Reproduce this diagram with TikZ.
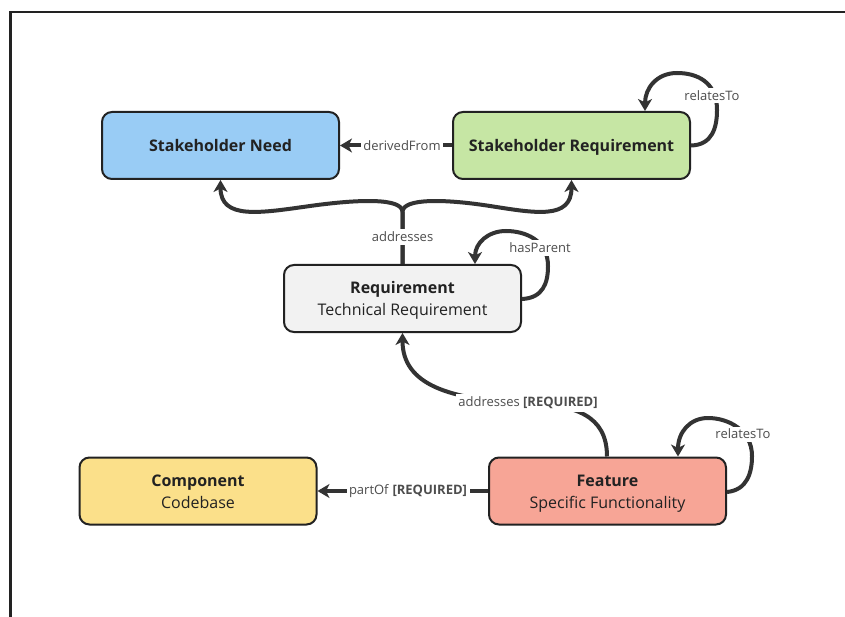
\documentclass[tikz,border=0pt]{standalone}
\usepackage{fontspec}
\setmainfont{Open Sans}
\usetikzlibrary{arrows.meta,calc}

\definecolor{ink}{HTML}{222222}
\definecolor{wire}{HTML}{333333}
\definecolor{lbl}{HTML}{4D4D4D}
\definecolor{needblue}{HTML}{99CCF5}
\definecolor{reqgreen}{HTML}{C6E6A4}
\definecolor{techgray}{HTML}{F2F2F2}
\definecolor{compyellow}{HTML}{FBE08A}
\definecolor{featred}{HTML}{F7A596}

% uniform line box so every title sits at the same height
\newcommand\lnstrut{\rule[-4.5pt]{0pt}{21pt}}

\tikzset{
  box/.style={draw=ink, line width=2pt, rounded corners=10pt,
    minimum width=237pt, minimum height=67pt, align=center,
    font=\fontsize{16}{22}\selectfont, text=ink, inner sep=0pt},
  conn/.style={draw=wire, line width=4pt,
    -{Stealth[length=12pt,width=14pt,inset=3.5pt]}},
  tag/.style={fill=white, text=lbl, font=\fontsize{13}{15}\selectfont,
    inner sep=2.5pt},
}

\begin{document}
\begin{tikzpicture}[x=1pt, y=-1pt]
  \useasboundingbox (0,0) rectangle (845,617);
  \fill[white] (0,0) rectangle (845,617);

  % frame
  \draw[ink, line width=2.5pt] (845,12) -- (10.5,12) -- (10.5,617);

  % entities
  \node[box, fill=needblue]  (sn)   at (220.5,145.5) {\lnstrut\textbf{Stakeholder Need}};
  \node[box, fill=reqgreen]  (sr)   at (571.5,145.5) {\lnstrut\textbf{Stakeholder Requirement}};
  \node[box, fill=techgray]  (req)  at (402.5,298.5) {\lnstrut\textbf{Requirement}\\\lnstrut Technical Requirement};
  \node[box, fill=compyellow](comp) at (198,491)     {\lnstrut\textbf{Component}\\\lnstrut Codebase};
  \node[box, fill=featred]   (feat) at (607.5,491)   {\lnstrut\textbf{Feature}\\\lnstrut Specific Functionality};

  % derivedFrom
  \draw[conn] (sr.west) -- (sn.east);
  \node[tag] (tderived) at (402,145.5) {derivedFrom};

  % addresses (brace-shaped pair)
  \draw[conn] (req.north) -- (402.5,212)
    .. controls (402.5,198) and (360,199) .. (310,206)
    .. controls (260,213) and (220.5,220) .. (sn.south);
  \draw[conn] (req.north) -- (402.5,212)
    .. controls (402.5,198) and (445,199) .. (490,206)
    .. controls (535,213) and (571.5,220) .. (sr.south);
  \node[tag] (taddr) at (402.5,237) {addresses};

  % relatesTo on Stakeholder Requirement
  \draw[conn] (sr.east)
    .. controls (712,145) and (717,128) .. (717,110)
    .. controls (717,82) and (697,73) .. (677,73)
    .. controls (657,73) and (645,88) .. ([xshift=73.5pt]sr.north);
  \node[tag] (tsrrel) at (712,96) {relatesTo};

  % hasParent on Requirement
  \draw[conn] ([yshift=-0.5pt]req.east)
    .. controls (543,298) and (548,283) .. (548,266)
    .. controls (548,240) and (525,231) .. (506,231)
    .. controls (488,231) and (475,243) .. ([xshift=72.5pt]req.north);
  \node[tag] (thas) at (540,248) {hasParent};

  % relatesTo on Feature
  \draw[conn] ([yshift=-1pt]feat.east)
    .. controls (747,490) and (752,473) .. (752,456)
    .. controls (752,430) and (728,418) .. (708,418)
    .. controls (690,418) and (678,432) .. ([xshift=70.5pt]feat.north);
  \node[tag] (tfrel) at (743,434) {relatesTo};

  % addresses [REQUIRED]
  \draw[conn] ([xshift=-0.5pt]feat.north)
    .. controls (607,415) and (575,405) .. (527,403)
    .. controls (450,400) and (402.5,385) .. (req.south);
  \node[tag] (taddreq) at (528,403) {addresses \textbf{[REQUIRED]}};

  % partOf [REQUIRED]
  \draw[conn] (feat.west) -- (comp.east);
  \node[tag] (tpart) at (408,491) {partOf \textbf{[REQUIRED]}};
\end{tikzpicture}
\end{document}
